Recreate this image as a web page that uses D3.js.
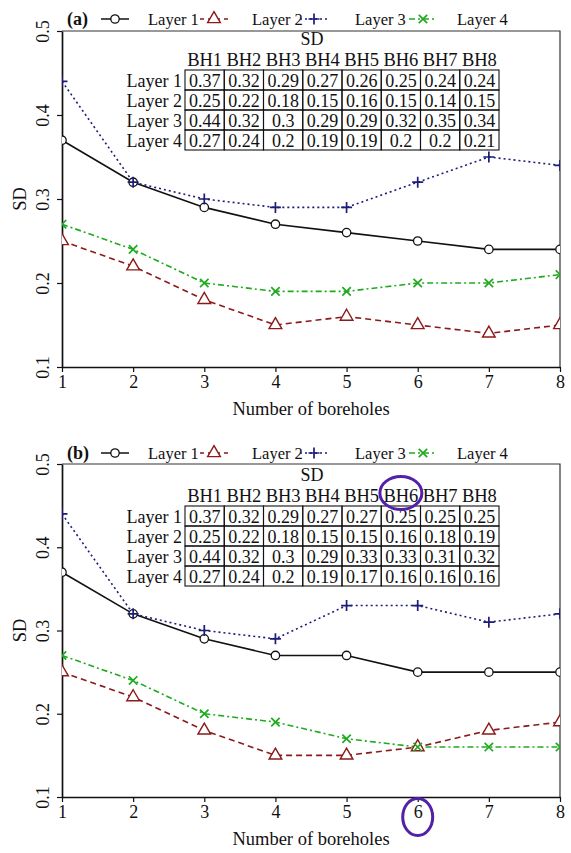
<!DOCTYPE html>
<html>
<head>
<meta charset="utf-8">
<script src="https://cdn.jsdelivr.net/npm/d3@7"></script>
<style>
  html, body { margin: 0; padding: 0; background: #fff; }
  svg { display: block; font-family: "Liberation Serif", "Times New Roman", serif; }
</style>
</head>
<body>
<svg id="chart" width="571" height="853"></svg>
<script>
// ---- data ----
const boreholes = [1, 2, 3, 4, 5, 6, 7, 8];
const bhLabels = ["BH1", "BH2", "BH3", "BH4", "BH5", "BH6", "BH7", "BH8"];
const layerNames = ["Layer 1", "Layer 2", "Layer 3", "Layer 4"];
const yTicks = [0.1, 0.2, 0.3, 0.4, 0.5];
const xTicks = [1, 2, 3, 4, 5, 6, 7, 8];

// panel (a)
const layer1A = [0.37, 0.32, 0.29, 0.27, 0.26, 0.25, 0.24, 0.24];
const layer2A = [0.25, 0.22, 0.18, 0.15, 0.16, 0.15, 0.14, 0.15];
const layer3A = [0.44, 0.32, 0.3, 0.29, 0.29, 0.32, 0.35, 0.34];
const layer4A = [0.27, 0.24, 0.2, 0.19, 0.19, 0.2, 0.2, 0.21];

// panel (b)
const layer1B = [0.37, 0.32, 0.29, 0.27, 0.27, 0.25, 0.25, 0.25];
const layer2B = [0.25, 0.22, 0.18, 0.15, 0.15, 0.16, 0.18, 0.19];
const layer3B = [0.44, 0.32, 0.3, 0.29, 0.33, 0.33, 0.31, 0.32];
const layer4B = [0.27, 0.24, 0.2, 0.19, 0.17, 0.16, 0.16, 0.16];

// ---- styles per layer ----
const styles = [
  { color: "#111111", dash: null,       marker: "circle" },
  { color: "#8b1a1a", dash: "6,4",      marker: "triangle" },
  { color: "#1c1c7a", dash: "2,3",      marker: "plus" },
  { color: "#1faa1f", dash: "6,3,2,3",  marker: "cross" }
];

const svg = d3.select("#chart");
const left = 62, right = 560;
const x = d3.scaleLinear().domain([1, 8]).range([left, right]);

function drawMarker(sel, type, color) {
  if (type === "circle") {
    sel.append("circle").attr("r", 4.2).attr("fill", "#fff")
      .attr("stroke", color).attr("stroke-width", 1.3);
  } else if (type === "triangle") {
    sel.append("path").attr("d", d3.symbol(d3.symbolTriangle, 70)())
      .attr("fill", "#fff").attr("stroke", color).attr("stroke-width", 1.4);
  } else if (type === "plus") {
    sel.append("path").attr("d", "M-5.5,0H5.5M0,-5.5V5.5")
      .attr("stroke", color).attr("stroke-width", 1.7).attr("fill", "none");
  } else {
    sel.append("path").attr("d", "M-4.2,-4.2L4.2,4.2M-4.2,4.2L4.2,-4.2")
      .attr("stroke", color).attr("stroke-width", 1.7).attr("fill", "none");
  }
}

function drawPanel(cfg) {
  const y = d3.scaleLinear().domain([0.1, 0.5]).range([cfg.bottom, cfg.top]);
  const g = svg.append("g");
  const clipId = "clip-" + cfg.id;

  g.append("clipPath").attr("id", clipId).append("rect")
    .attr("x", left).attr("y", cfg.top)
    .attr("width", right - left).attr("height", cfg.bottom - cfg.top);

  // frame (top and right)
  g.append("path")
    .attr("d", `M${left},${cfg.top}H${right}V${cfg.bottom}`)
    .attr("fill", "none").attr("stroke", "#333").attr("stroke-width", 1.2);

  // x axis
  const xAxis = g.append("g").attr("transform", `translate(0,${cfg.bottom})`)
    .call(d3.axisBottom(x).tickValues(xTicks).tickFormat(d3.format("d"))
      .tickSizeInner(5).tickSizeOuter(0).tickPadding(3));
  xAxis.select(".domain").attr("stroke", "#111").attr("stroke-width", 1.7);
  xAxis.selectAll(".tick line").attr("stroke", "#111").attr("stroke-width", 1.2);
  xAxis.selectAll(".tick text")
    .attr("font-family", "Liberation Serif").attr("font-size", 18).attr("fill", "#111")
    .attr("dy", "0.71em");

  // y axis with rotated labels
  const yAxis = g.append("g").attr("transform", `translate(${left},0)`)
    .call(d3.axisLeft(y).tickValues(yTicks).tickFormat(d3.format(".1f"))
      .tickSizeInner(5).tickSizeOuter(0));
  yAxis.select(".domain").attr("stroke", "#111").attr("stroke-width", 1.7);
  yAxis.selectAll(".tick line").attr("stroke", "#111").attr("stroke-width", 1.2);
  yAxis.selectAll(".tick text")
    .attr("font-family", "Liberation Serif").attr("font-size", 18).attr("fill", "#111")
    .attr("x", null).attr("dy", null)
    .attr("text-anchor", "middle")
    .attr("transform", "translate(-13,0) rotate(-90)");

  // axis titles
  g.append("text").attr("x", (left + right) / 2).attr("y", cfg.bottom + 48)
    .attr("text-anchor", "middle").attr("font-size", 18.5).attr("fill", "#111")
    .text("Number of boreholes");
  g.append("text")
    .attr("transform", `translate(26,${(cfg.top + cfg.bottom) / 2}) rotate(-90)`)
    .attr("text-anchor", "middle").attr("font-size", 18.5).attr("fill", "#111")
    .text("SD");

  // series
  const plot = g.append("g").attr("clip-path", `url(#${clipId})`);
  const line = d3.line().x((d, i) => x(boreholes[i])).y(d => y(d));
  cfg.series.forEach((vals, k) => {
    const st = styles[k];
    plot.append("path").datum(vals).attr("d", line)
      .attr("fill", "none").attr("stroke", st.color).attr("stroke-width", 1.6)
      .attr("stroke-dasharray", st.dash);
  });
  cfg.series.forEach((vals, k) => {
    const st = styles[k];
    vals.forEach((v, i) => {
      const m = plot.append("g").attr("transform", `translate(${x(boreholes[i])},${y(v)})`);
      drawMarker(m, st.marker, st.color);
    });
  });

  // legend
  const lg = g.append("g");
  lg.append("text").attr("x", 67).attr("y", cfg.legendY)
    .attr("font-size", 18).attr("font-weight", "bold").attr("fill", "#111")
    .text(cfg.label);
  const legendSym = [101, 200, 300, 409];
  const legendTxt = [148, 252, 355, 457];
  styles.forEach((st, k) => {
    const cx = legendSym[k] + 14;
    const cy = cfg.legendY - 6;
    lg.append("line").attr("x1", legendSym[k]).attr("x2", legendSym[k] + 28)
      .attr("y1", cy).attr("y2", cy)
      .attr("stroke", st.color).attr("stroke-width", 1.5)
      .attr("stroke-dasharray", st.dash ? (k === 1 ? "4,4" : st.dash) : null);
    const m = lg.append("g").attr("transform", `translate(${cx},${cy})`);
    drawMarker(m, st.marker, st.color);
    lg.append("text").attr("x", legendTxt[k]).attr("y", cfg.legendY)
      .attr("font-size", 16.5).attr("fill", "#111").text(layerNames[k]);
  });

  // value table
  const tb = g.append("g");
  const tLeft = 185, cellW = 39.25, rowH = 20, tTop = cfg.tableTop;
  tb.append("text").attr("x", 312).attr("y", tTop - 25)
    .attr("text-anchor", "middle").attr("font-size", 18).attr("fill", "#111").text("SD");
  bhLabels.forEach((b, j) => {
    tb.append("text").attr("x", tLeft + cellW * (j + 0.5)).attr("y", tTop - 4)
      .attr("text-anchor", "middle").attr("font-size", 18).attr("fill", "#111")
      .attr("textLength", 35).attr("lengthAdjust", "spacingAndGlyphs").text(b);
  });
  cfg.series.forEach((vals, k) => {
    const rt = tTop + rowH * k;
    tb.append("text").attr("x", tLeft - 3).attr("y", rt + 16.5)
      .attr("text-anchor", "end").attr("font-size", 18).attr("fill", "#111")
      .text(layerNames[k]);
    vals.forEach((v, j) => {
      tb.append("rect").attr("x", tLeft + cellW * j).attr("y", rt)
        .attr("width", cellW).attr("height", rowH)
        .attr("fill", "none").attr("stroke", "#111").attr("stroke-width", 1.1);
      tb.append("text").attr("x", tLeft + cellW * (j + 0.5)).attr("y", rt + 16.5)
        .attr("text-anchor", "middle").attr("font-size", 18).attr("fill", "#111")
        .text(String(v));
    });
  });

  return { y, g };
}

drawPanel({ id: "a", label: "(a)", top: 31, bottom: 367, legendY: 25, tableTop: 70,
  series: [layer1A, layer2A, layer3A, layer4A] });

const pb = drawPanel({ id: "b", label: "(b)", top: 464, bottom: 797, legendY: 459, tableTop: 506,
  series: [layer1B, layer2B, layer3B, layer4B] });

// highlight rings around borehole 6 in panel (b)
const ring = "#5320a8";
pb.g.append("ellipse")
  .attr("cx", 185 + 39.25 * 5.5).attr("cy", 493).attr("rx", 21).attr("ry", 16.5)
  .attr("fill", "none").attr("stroke", ring).attr("stroke-width", 3);
pb.g.append("ellipse")
  .attr("cx", x(6)).attr("cy", 817).attr("rx", 15).attr("ry", 18.5)
  .attr("fill", "none").attr("stroke", ring).attr("stroke-width", 3);
</script>
</body>
</html>
